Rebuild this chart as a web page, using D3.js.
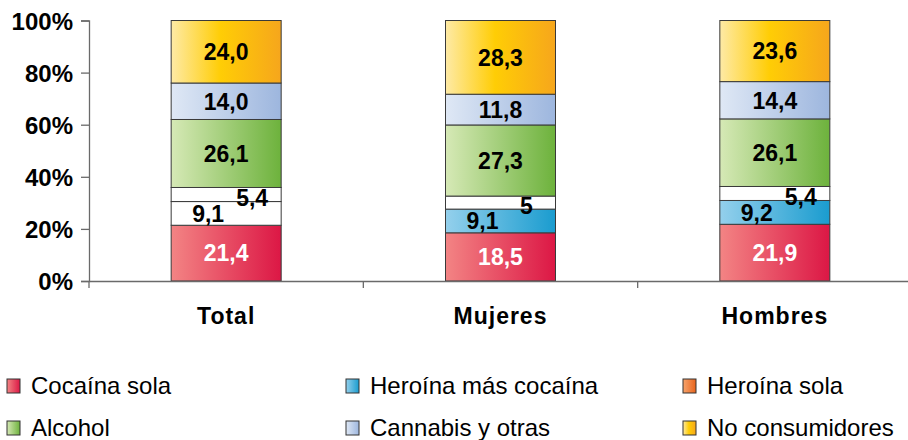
<!DOCTYPE html>
<html>
<head>
<meta charset="utf-8">
<script src="https://cdn.jsdelivr.net/npm/d3@7/dist/d3.min.js"></script>
<style>
  body { margin: 0; background: #fff; }
  svg { display: block; font-family: Arial, "Liberation Sans", sans-serif; }
</style>
</head>
<body>
<svg id="chart" width="908" height="440"></svg>
<script>
// ---- Data ----
const categories = ["Total", "Mujeres", "Hombres"];
const seriesNames = ["Cocaína sola", "Heroína más cocaína", "Heroína sola", "Alcohol", "Cannabis y otras", "No consumidores"];
const cocainaSola = [21.4, 18.5, 21.9];
const heroinaCocaina = [9.1, 9.1, 9.2];
const heroinaSola = [5.4, 5, 5.4];
const alcohol = [26.1, 27.3, 26.1];
const cannabis = [14.0, 11.8, 14.4];
const noConsumidores = [24.0, 28.3, 23.6];
const yTicks = [0, 20, 40, 60, 80, 100];

const seriesValues = [cocainaSola, heroinaCocaina, heroinaSola, alcohol, cannabis, noConsumidores];

// ---- Styles ----
const gradStops = [
  [["0%", "#f38484"], ["100%", "#dc1745"]],
  [["0%", "#94d0ec"], ["100%", "#1a9ccf"]],
  [["0%", "#f6a46c"], ["100%", "#e8631c"]],
  [["0%", "#d6e9b6"], ["100%", "#6db23c"]],
  [["0%", "#dfe8f5"], ["100%", "#9db6de"]],
  [["0%", "#feeaa6"], ["45%", "#ffcd05"], ["100%", "#f6a61c"]]
];
// cells drawn white in the reference (series index, category)
const whiteCells = [[1, "Total"], [2, "Total"], [2, "Mujeres"], [2, "Hombres"]];
const labelOffsets = { 1: [-18, 0], 2: [26, 3] };
const labelColors = { 0: "#fff" };
const plainLabels = [[2, "Mujeres"]];

const svg = d3.select("#chart");
const defs = svg.append("defs");
gradStops.forEach((stops, i) => {
  const g = defs.append("linearGradient").attr("id", "g" + i)
    .attr("x1", "0").attr("x2", "1").attr("y1", "0").attr("y2", "0");
  stops.forEach(s => g.append("stop").attr("offset", s[0]).attr("stop-color", s[1]));
});

const x = d3.scaleBand().domain(categories).range([89, 912]).paddingInner(0).paddingOuter(0);
const y = d3.scaleLinear().domain([0, 1]).range([281, 20.5]);
const barW = 110;

const table = categories.map((c, ci) => {
  const row = { category: c };
  seriesNames.forEach((s, si) => row[s] = seriesValues[si][ci]);
  return row;
});
const stacked = d3.stack().keys(seriesNames).offset(d3.stackOffsetExpand)(table);

const fmt = d3.formatLocale({ decimal: ",", thousands: ".", grouping: [3], currency: ["", "€"] }).format(".1f");

// bars
stacked.forEach((layer, si) => {
  const g = svg.append("g");
  layer.forEach((d, ci) => {
    const cat = categories[ci];
    const isWhite = whiteCells.some(w => w[0] === si && w[1] === cat);
    g.append("rect")
      .attr("x", x(cat) + x.bandwidth() / 2 - barW / 2)
      .attr("y", y(d[1]))
      .attr("width", barW)
      .attr("height", y(d[0]) - y(d[1]))
      .attr("fill", isWhite ? "#ffffff" : "url(#g" + si + ")")
      .attr("stroke", "#3a3a3a")
      .attr("stroke-width", 1);
  });
});

// axes
const yAxis = d3.axisLeft(y).tickValues(yTicks.map(t => t / 100)).tickSize(8)
  .tickFormat(d => Math.round(d * 100) + "%");
const ya = svg.append("g").attr("transform", "translate(89,0)").call(yAxis);
ya.select(".domain").attr("stroke", "#6a6a6a").attr("stroke-width", 1.3);
ya.selectAll(".tick line").attr("stroke", "#6a6a6a").attr("stroke-width", 1.3);
ya.selectAll("text").attr("font-size", 24).attr("font-weight", "bold")
  .attr("fill", "#000").attr("x", -16).attr("dy", "0.36em")
  .attr("font-family", "Arial, 'Liberation Sans', sans-serif");

const xa = svg.append("g").attr("transform", "translate(0,281)")
  .call(d3.axisBottom(x).tickSize(0).tickPadding(0));
xa.select(".domain").attr("stroke", "#6a6a6a").attr("stroke-width", 1.3);
xa.selectAll("text").attr("font-size", 23).attr("font-weight", "bold")
  .attr("fill", "#000").attr("y", 43).attr("dy", 0).attr("letter-spacing", 1)
  .attr("font-family", "Arial, 'Liberation Sans', sans-serif");
// category separator ticks
const sepTicks = categories.slice(1).map(c => x(c));
svg.append("g").selectAll("line").data([x(categories[0])].concat(sepTicks)).join("line")
  .attr("x1", d => d).attr("x2", d => d).attr("y1", 281).attr("y2", 288)
  .attr("stroke", "#6a6a6a").attr("stroke-width", 1.3);

// value labels
stacked.forEach((layer, si) => {
  layer.forEach((d, ci) => {
    const cat = categories[ci];
    const v = seriesValues[si][ci];
    const off = labelOffsets[si] || [0, 0];
    const plain = plainLabels.some(p => p[0] === si && p[1] === cat);
    svg.append("text")
      .attr("x", x(cat) + x.bandwidth() / 2 + off[0])
      .attr("y", (y(d[0]) + y(d[1])) / 2 + off[1])
      .attr("dy", "0.36em")
      .attr("text-anchor", "middle")
      .attr("font-size", 23).attr("font-weight", "bold")
      .attr("fill", labelColors[si] || "#000")
      .text(plain ? String(v) : fmt(v));
  });
});

// legend
const legCols = [7, 346, 683];
const legRows = [386, 428];
seriesNames.forEach((s, i) => {
  const cx = legCols[i % 3], cy = legRows[Math.floor(i / 3)];
  svg.append("rect").attr("x", cx).attr("y", cy - 7).attr("width", 13).attr("height", 14)
    .attr("fill", "url(#g" + i + ")").attr("stroke", "#333").attr("stroke-width", 1);
  svg.append("text").attr("x", cx + 24).attr("y", cy).attr("dy", "0.35em")
    .attr("font-size", 24).attr("fill", "#000").text(s);
});
</script>
</body>
</html>
